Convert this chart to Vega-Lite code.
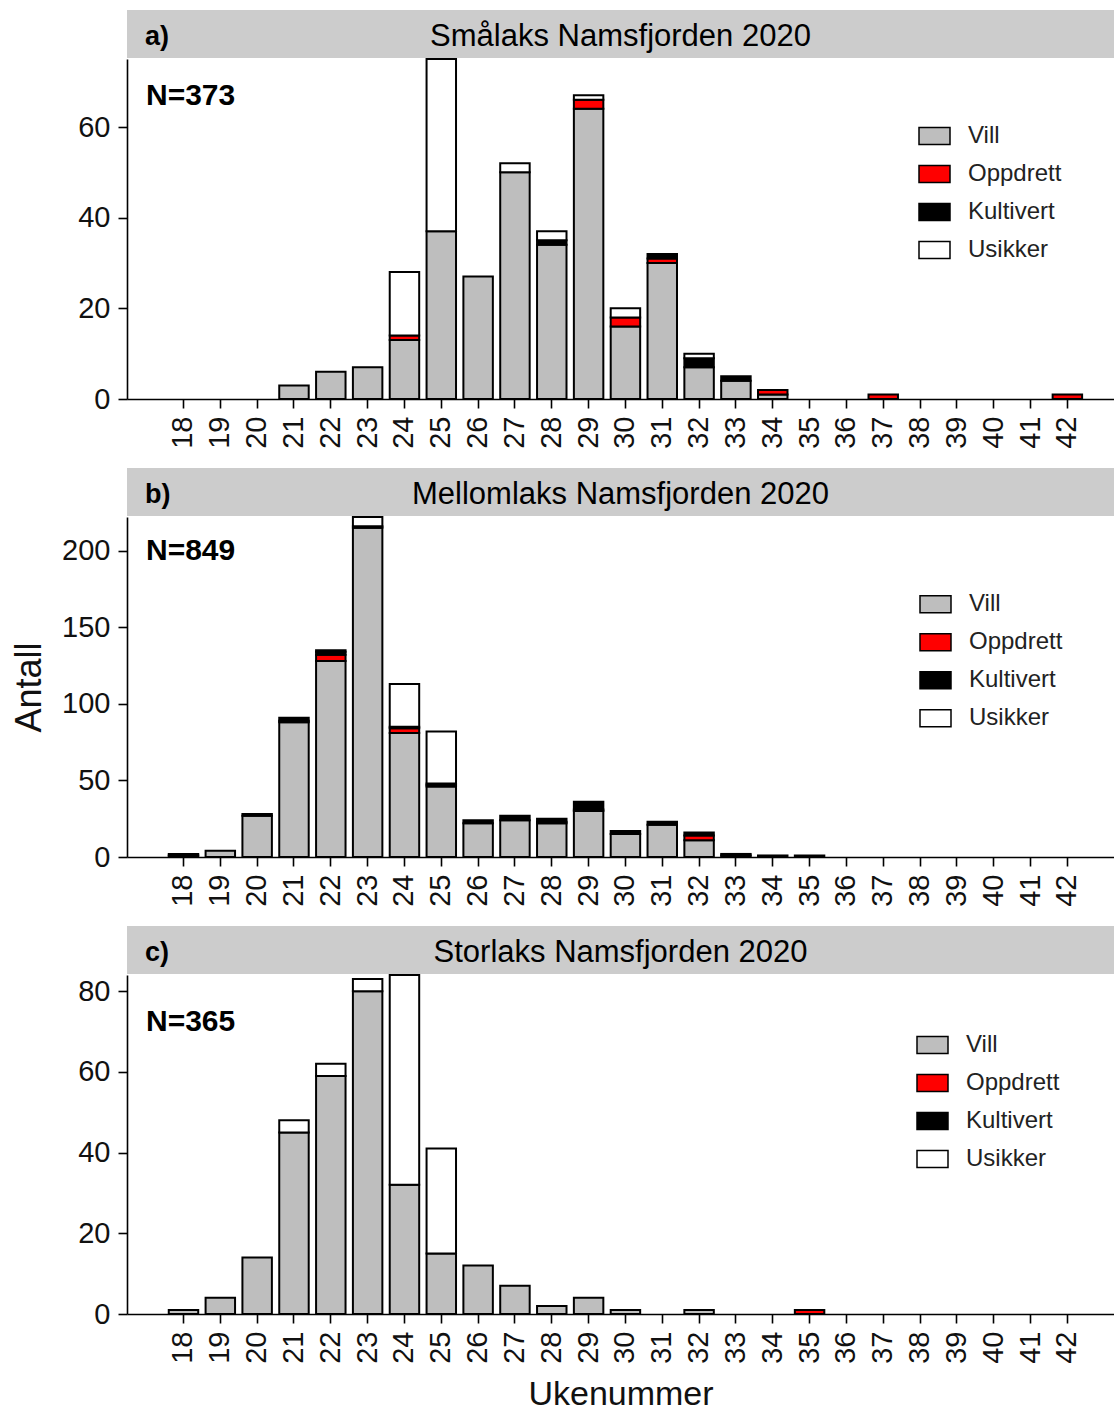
{
  "$schema": "https://vega.github.io/schema/vega-lite/v6.json",
  "padding": {"left": 11, "top": 10, "right": 0, "bottom": 0},
  "background": "white",
  "datasets": {
    "a": [
      {"week": 21, "type": "Vill", "n": 3},
      {"week": 22, "type": "Vill", "n": 6},
      {"week": 23, "type": "Vill", "n": 7},
      {"week": 24, "type": "Vill", "n": 13}, {"week": 24, "type": "Oppdrett", "n": 1}, {"week": 24, "type": "Usikker", "n": 14},
      {"week": 25, "type": "Vill", "n": 37}, {"week": 25, "type": "Usikker", "n": 38},
      {"week": 26, "type": "Vill", "n": 27},
      {"week": 27, "type": "Vill", "n": 50}, {"week": 27, "type": "Usikker", "n": 2},
      {"week": 28, "type": "Vill", "n": 34}, {"week": 28, "type": "Kultivert", "n": 1}, {"week": 28, "type": "Usikker", "n": 2},
      {"week": 29, "type": "Vill", "n": 64}, {"week": 29, "type": "Oppdrett", "n": 2}, {"week": 29, "type": "Usikker", "n": 1},
      {"week": 30, "type": "Vill", "n": 16}, {"week": 30, "type": "Oppdrett", "n": 2}, {"week": 30, "type": "Usikker", "n": 2},
      {"week": 31, "type": "Vill", "n": 30}, {"week": 31, "type": "Oppdrett", "n": 1}, {"week": 31, "type": "Kultivert", "n": 1},
      {"week": 32, "type": "Vill", "n": 7}, {"week": 32, "type": "Kultivert", "n": 2}, {"week": 32, "type": "Usikker", "n": 1},
      {"week": 33, "type": "Vill", "n": 4}, {"week": 33, "type": "Kultivert", "n": 1},
      {"week": 34, "type": "Vill", "n": 1}, {"week": 34, "type": "Oppdrett", "n": 1},
      {"week": 37, "type": "Oppdrett", "n": 1},
      {"week": 42, "type": "Oppdrett", "n": 1}
    ],
    "b": [
      {"week": 18, "type": "Vill", "n": 1}, {"week": 18, "type": "Kultivert", "n": 1},
      {"week": 19, "type": "Vill", "n": 4},
      {"week": 20, "type": "Vill", "n": 27}, {"week": 20, "type": "Kultivert", "n": 1},
      {"week": 21, "type": "Vill", "n": 88}, {"week": 21, "type": "Oppdrett", "n": 1}, {"week": 21, "type": "Kultivert", "n": 2},
      {"week": 22, "type": "Vill", "n": 128}, {"week": 22, "type": "Oppdrett", "n": 4}, {"week": 22, "type": "Kultivert", "n": 2}, {"week": 22, "type": "Usikker", "n": 1},
      {"week": 23, "type": "Vill", "n": 215}, {"week": 23, "type": "Kultivert", "n": 1}, {"week": 23, "type": "Usikker", "n": 6},
      {"week": 24, "type": "Vill", "n": 81}, {"week": 24, "type": "Oppdrett", "n": 3}, {"week": 24, "type": "Kultivert", "n": 1}, {"week": 24, "type": "Usikker", "n": 28},
      {"week": 25, "type": "Vill", "n": 46}, {"week": 25, "type": "Oppdrett", "n": 1}, {"week": 25, "type": "Kultivert", "n": 1}, {"week": 25, "type": "Usikker", "n": 34},
      {"week": 26, "type": "Vill", "n": 22}, {"week": 26, "type": "Kultivert", "n": 2},
      {"week": 27, "type": "Vill", "n": 24}, {"week": 27, "type": "Kultivert", "n": 3},
      {"week": 28, "type": "Vill", "n": 22}, {"week": 28, "type": "Oppdrett", "n": 1}, {"week": 28, "type": "Kultivert", "n": 2},
      {"week": 29, "type": "Vill", "n": 30}, {"week": 29, "type": "Oppdrett", "n": 1}, {"week": 29, "type": "Kultivert", "n": 5},
      {"week": 30, "type": "Vill", "n": 15}, {"week": 30, "type": "Kultivert", "n": 2},
      {"week": 31, "type": "Vill", "n": 21}, {"week": 31, "type": "Kultivert", "n": 2},
      {"week": 32, "type": "Vill", "n": 11}, {"week": 32, "type": "Oppdrett", "n": 3}, {"week": 32, "type": "Kultivert", "n": 2},
      {"week": 33, "type": "Vill", "n": 1}, {"week": 33, "type": "Kultivert", "n": 1},
      {"week": 34, "type": "Kultivert", "n": 1},
      {"week": 35, "type": "Kultivert", "n": 1}
    ],
    "c": [
      {"week": 18, "type": "Vill", "n": 1},
      {"week": 19, "type": "Vill", "n": 4},
      {"week": 20, "type": "Vill", "n": 14},
      {"week": 21, "type": "Vill", "n": 45}, {"week": 21, "type": "Usikker", "n": 3},
      {"week": 22, "type": "Vill", "n": 59}, {"week": 22, "type": "Usikker", "n": 3},
      {"week": 23, "type": "Vill", "n": 80}, {"week": 23, "type": "Usikker", "n": 3},
      {"week": 24, "type": "Vill", "n": 32}, {"week": 24, "type": "Usikker", "n": 52},
      {"week": 25, "type": "Vill", "n": 15}, {"week": 25, "type": "Usikker", "n": 26},
      {"week": 26, "type": "Vill", "n": 12},
      {"week": 27, "type": "Vill", "n": 7},
      {"week": 28, "type": "Vill", "n": 2},
      {"week": 29, "type": "Vill", "n": 4},
      {"week": 30, "type": "Vill", "n": 1},
      {"week": 32, "type": "Vill", "n": 1},
      {"week": 35, "type": "Oppdrett", "n": 1}
    ],
    "strips": [
      {"panel": "a", "title": "Smålaks Namsfjorden 2020"},
      {"panel": "b", "title": "Mellomlaks Namsfjorden 2020"},
      {"panel": "c", "title": "Storlaks Namsfjorden 2020"}
    ]
  },
  "spacing": 19,
  "resolve": {"scale": {"color": "independent"}, "legend": {"color": "independent"}},
  "vconcat": [
    {
      "spacing": 0,
      "vconcat": [
        {
          "width": 987, "height": 48,
          "view": {"fill": "#cccccc", "stroke": null},
          "title": {"text": "a)", "anchor": "start", "frame": "group", "orient": "top", "offset": -62, "baseline": "alphabetic", "dx": 18, "fontSize": 27, "fontWeight": "bold", "font": "Liberation Sans", "color": "black"},
          "data": {"name": "strips"},
          "transform": [{"filter": "datum.panel === 'a'"}],
          "mark": {"type": "text", "font": "Liberation Sans", "fontSize": 31, "color": "black", "baseline": "alphabetic", "dy": 12},
          "encoding": {"text": {"field": "title"}}
        },
        {
          "width": 987, "height": 340,
          "view": {"stroke": null},
          "title": {"text": "N=373", "anchor": "start", "frame": "group", "orient": "top", "offset": -76.7, "baseline": "alphabetic", "dx": 19, "fontSize": 30, "fontWeight": "bold", "font": "Liberation Sans", "color": "black"},
          "data": {"name": "a"},
          "transform": [{"calculate": "indexof(['Vill','Oppdrett','Kultivert','Usikker'], datum.type)", "as": "ord"}],
          "mark": {"type": "bar", "stroke": "black", "strokeWidth": 2},
          "encoding": {
            "x": {"field": "week", "type": "ordinal", "scale": {"domain": [18,19,20,21,22,23,24,25,26,27,28,29,30,31,32,33,34,35,36,37,38,39,40,41,42], "paddingInner": 0.2, "paddingOuter": 1.058, "align": 0.567}, "axis": {"title": null, "labelAngle": 270}},
            "y": {"field": "n", "type": "quantitative", "stack": "zero", "scale": {"domain": [0, 75], "nice": false}, "axis": {"title": null, "values": [0, 20, 40, 60]}},
            "color": {"field": "type", "type": "nominal", "scale": {"domain": ["Vill", "Oppdrett", "Kultivert", "Usikker"], "range": ["#bebebe", "#ff0000", "#000000", "#ffffff"]},
              "legend": {"title": null, "orient": "none", "legendX": 791, "legendY": 109.5, "direction": "vertical", "padding": 0,
                "symbolType": "M-1,-0.55H1V0.55H-1Z", "symbolSize": 961, "symbolStrokeColor": "black", "symbolStrokeWidth": 1.5,
                "labelFontSize": 24, "labelFont": "Liberation Sans", "labelColor": "#222222", "labelOffset": 17, "rowPadding": 9,
                "encode": {"symbols": {"update": {"fill": {"signal": "datum.value === 'Vill' ? '#808080' : datum.value === 'Oppdrett' ? '#ed1c24' : datum.value === 'Kultivert' ? '#000000' : '#ffffff'"}, "stroke": {"value": "black"}, "strokeWidth": {"value": 1.5}, "opacity": {"value": 1}}}}}},
            "order": {"field": "ord", "type": "quantitative"}
          }
        }
      ]
    },
    {
      "spacing": 0,
      "vconcat": [
        {
          "width": 987, "height": 48,
          "view": {"fill": "#cccccc", "stroke": null},
          "title": {"text": "b)", "anchor": "start", "frame": "group", "orient": "top", "offset": -62, "baseline": "alphabetic", "dx": 18, "fontSize": 27, "fontWeight": "bold", "font": "Liberation Sans", "color": "black"},
          "data": {"name": "strips"},
          "transform": [{"filter": "datum.panel === 'b'"}],
          "mark": {"type": "text", "font": "Liberation Sans", "fontSize": 31, "color": "black", "baseline": "alphabetic", "dy": 12},
          "encoding": {"text": {"field": "title"}}
        },
        {
          "width": 987, "height": 340,
          "view": {"stroke": null},
          "title": {"text": "N=849", "anchor": "start", "frame": "group", "orient": "top", "offset": -74, "baseline": "alphabetic", "dx": 19, "fontSize": 30, "fontWeight": "bold", "font": "Liberation Sans", "color": "black"},
          "data": {"name": "b"},
          "transform": [{"calculate": "indexof(['Vill','Oppdrett','Kultivert','Usikker'], datum.type)", "as": "ord"}],
          "mark": {"type": "bar", "stroke": "black", "strokeWidth": 2},
          "encoding": {
            "x": {"field": "week", "type": "ordinal", "scale": {"domain": [18,19,20,21,22,23,24,25,26,27,28,29,30,31,32,33,34,35,36,37,38,39,40,41,42], "paddingInner": 0.2, "paddingOuter": 1.058, "align": 0.567}, "axis": {"title": null, "labelAngle": 270}},
            "y": {"field": "n", "type": "quantitative", "stack": "zero", "scale": {"domain": [0, 222], "nice": false}, "axis": {"title": "Antall", "titleFontSize": 36, "titlePadding": 13, "values": [0, 50, 100, 150, 200]}},
            "color": {"field": "type", "type": "nominal", "scale": {"domain": ["Vill", "Oppdrett", "Kultivert", "Usikker"], "range": ["#bebebe", "#ff0000", "#000000", "#ffffff"]},
              "legend": {"title": null, "orient": "none", "legendX": 792, "legendY": 119.7, "direction": "vertical", "padding": 0,
                "symbolType": "M-1,-0.55H1V0.55H-1Z", "symbolSize": 961, "symbolStrokeColor": "black", "symbolStrokeWidth": 1.5,
                "labelFontSize": 24, "labelFont": "Liberation Sans", "labelColor": "#222222", "labelOffset": 17, "rowPadding": 9,
                "encode": {"symbols": {"update": {"fill": {"signal": "datum.value === 'Vill' ? '#808080' : datum.value === 'Oppdrett' ? '#ed1c24' : datum.value === 'Kultivert' ? '#000000' : '#ffffff'"}, "stroke": {"value": "black"}, "strokeWidth": {"value": 1.5}, "opacity": {"value": 1}}}}}},
            "order": {"field": "ord", "type": "quantitative"}
          }
        }
      ]
    },
    {
      "spacing": 0,
      "vconcat": [
        {
          "width": 987, "height": 48,
          "view": {"fill": "#cccccc", "stroke": null},
          "title": {"text": "c)", "anchor": "start", "frame": "group", "orient": "top", "offset": -62, "baseline": "alphabetic", "dx": 18, "fontSize": 27, "fontWeight": "bold", "font": "Liberation Sans", "color": "black"},
          "data": {"name": "strips"},
          "transform": [{"filter": "datum.panel === 'c'"}],
          "mark": {"type": "text", "font": "Liberation Sans", "fontSize": 31, "color": "black", "baseline": "alphabetic", "dy": 12},
          "encoding": {"text": {"field": "title"}}
        },
        {
          "width": 987, "height": 339,
          "view": {"stroke": null},
          "title": {"text": "N=365", "anchor": "start", "frame": "group", "orient": "top", "offset": -87.3, "baseline": "alphabetic", "dx": 19, "fontSize": 30, "fontWeight": "bold", "font": "Liberation Sans", "color": "black"},
          "data": {"name": "c"},
          "transform": [{"calculate": "indexof(['Vill','Oppdrett','Kultivert','Usikker'], datum.type)", "as": "ord"}],
          "mark": {"type": "bar", "stroke": "black", "strokeWidth": 2},
          "encoding": {
            "x": {"field": "week", "type": "ordinal", "scale": {"domain": [18,19,20,21,22,23,24,25,26,27,28,29,30,31,32,33,34,35,36,37,38,39,40,41,42], "paddingInner": 0.2, "paddingOuter": 1.058, "align": 0.567}, "axis": {"title": "Ukenummer", "titleFontSize": 34, "titlePadding": 14, "labelAngle": 270}},
            "y": {"field": "n", "type": "quantitative", "stack": "zero", "scale": {"domain": [0, 84], "nice": false}, "axis": {"title": null, "values": [0, 20, 40, 60, 80]}},
            "color": {"field": "type", "type": "nominal", "scale": {"domain": ["Vill", "Oppdrett", "Kultivert", "Usikker"], "range": ["#bebebe", "#ff0000", "#000000", "#ffffff"]},
              "legend": {"title": null, "orient": "none", "legendX": 789, "legendY": 102.5, "direction": "vertical", "padding": 0,
                "symbolType": "M-1,-0.55H1V0.55H-1Z", "symbolSize": 961, "symbolStrokeColor": "black", "symbolStrokeWidth": 1.5,
                "labelFontSize": 24, "labelFont": "Liberation Sans", "labelColor": "#222222", "labelOffset": 17, "rowPadding": 9,
                "encode": {"symbols": {"update": {"fill": {"signal": "datum.value === 'Vill' ? '#808080' : datum.value === 'Oppdrett' ? '#ed1c24' : datum.value === 'Kultivert' ? '#000000' : '#ffffff'"}, "stroke": {"value": "black"}, "strokeWidth": {"value": 1.5}, "opacity": {"value": 1}}}}}},
            "order": {"field": "ord", "type": "quantitative"}
          }
        }
      ]
    }
  ],
  "config": {
    "axis": {"domainColor": "black", "domainWidth": 1.6, "tickColor": "black", "tickWidth": 1.6, "tickSize": 9, "labelFont": "Liberation Sans", "labelFontSize": 29, "labelColor": "#111111", "labelPadding": 8, "grid": false, "titleFont": "Liberation Sans", "titleFontWeight": "normal", "titleColor": "#111111"}
  }
}
